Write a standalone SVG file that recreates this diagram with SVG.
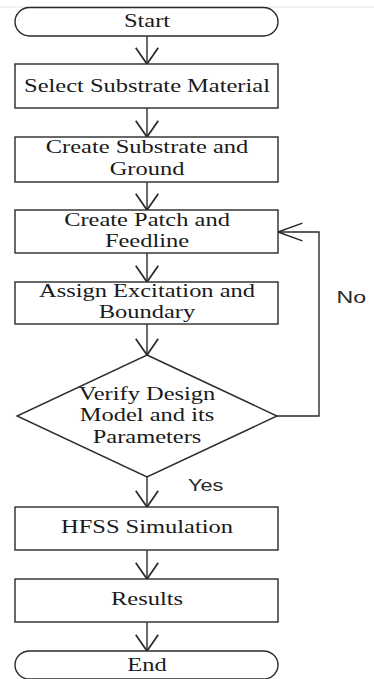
<svg xmlns="http://www.w3.org/2000/svg" width="374" height="679" viewBox="0 0 374 679">
  <style>
    .shape { fill: #ffffff; stroke: #2a2a2a; stroke-width: 1.4; }
    .link { fill: none; stroke: #2a2a2a; stroke-width: 1.4; }
    .label { font-family: "Liberation Serif", "Times New Roman", serif; font-size: 18px; fill: #1a1a1a; text-anchor: middle; }
    .branch { font-family: "Liberation Sans", Arial, sans-serif; font-size: 16px; fill: #2a2a2a; }
  </style>
  <defs>
    <marker id="head" markerUnits="userSpaceOnUse" markerWidth="30" markerHeight="30" viewBox="-15 -12 18 24" refX="0" refY="0" orient="auto" overflow="visible">
      <path d="M -13 -9 L 0 0 L -13 9" fill="none" stroke="#2a2a2a" stroke-width="1.4"/>
    </marker>
    <marker id="headLong" markerUnits="userSpaceOnUse" markerWidth="30" markerHeight="30" viewBox="-24 -12 27 24" refX="0" refY="0" orient="auto" overflow="visible">
      <path d="M -22 -8 L 0 0 L -22 8" fill="none" stroke="#2a2a2a" stroke-width="1.4"/>
    </marker>
  </defs>

  <rect width="374" height="679" fill="#ffffff"/>
  <line x1="0" y1="7" x2="374" y2="7" stroke="#e6e6e6" stroke-width="1"/>

  <!-- connectors -->
  <g id="connectors">
    <line class="link" x1="147" y1="36" x2="147" y2="64" marker-end="url(#head)"/>
    <line class="link" x1="147" y1="108" x2="147" y2="137" marker-end="url(#head)"/>
    <line class="link" x1="147" y1="182" x2="147" y2="210" marker-end="url(#head)"/>
    <line class="link" x1="147" y1="253" x2="147" y2="282" marker-end="url(#head)"/>
    <line class="link" x1="147" y1="324" x2="147" y2="355" marker-end="url(#head)"/>
    <line class="link" x1="147" y1="477" x2="147" y2="507" marker-end="url(#head)"/>
    <line class="link" x1="147" y1="550" x2="147" y2="579" marker-end="url(#head)"/>
    <line class="link" x1="147" y1="622" x2="147" y2="651" marker-end="url(#head)"/>
    <!-- "No" loop back to the patch step -->
    <polyline class="link" points="277,416 319,416 319,232 278,232" marker-end="url(#headLong)"/>
  </g>

  <!-- nodes -->
  <g id="start">
    <rect class="shape" x="15" y="7.5" width="263" height="28.5" rx="14.5" ry="14.25"/>
  </g>
  <g id="select-substrate">
    <rect class="shape" x="15" y="64" width="263" height="44"/>
  </g>
  <g id="create-substrate">
    <rect class="shape" x="15" y="137" width="263" height="45"/>
  </g>
  <g id="create-patch">
    <rect class="shape" x="15" y="210" width="263" height="43"/>
  </g>
  <g id="assign-excitation">
    <rect class="shape" x="15" y="282" width="263" height="42"/>
  </g>
  <g id="verify">
    <polygon class="shape" points="147,355 277,416 147,477 17,416"/>
  </g>
  <g id="hfss">
    <rect class="shape" x="15" y="507" width="263" height="43"/>
  </g>
  <g id="results">
    <rect class="shape" x="15" y="579" width="263" height="43"/>
  </g>
  <g id="end">
    <rect class="shape" x="15" y="651" width="263" height="28" rx="14.5" ry="14"/>
  </g>

  <!-- labels, drawn in a horizontally widened type -->
  <g transform="scale(1.36 1)">
    <text class="label" x="108.1" y="27">Start</text>
    <text class="label" x="108.1" y="92">Select Substrate Material</text>
    <text class="label" x="108.1" y="153">Create Substrate and</text>
    <text class="label" x="108.1" y="175">Ground</text>
    <text class="label" x="108.1" y="226">Create Patch and</text>
    <text class="label" x="108.1" y="247">Feedline</text>
    <text class="label" x="108.1" y="297">Assign Excitation and</text>
    <text class="label" x="108.1" y="318">Boundary</text>
    <text class="label" x="108.1" y="400">Verify Design</text>
    <text class="label" x="108.1" y="421.5">Model and its</text>
    <text class="label" x="108.1" y="443">Parameters</text>
    <text class="label" x="108.1" y="533">HFSS Simulation</text>
    <text class="label" x="108.1" y="605">Results</text>
    <text class="label" x="108.1" y="671">End</text>
    <text class="branch" x="138.2" y="491">Yes</text>
    <text class="branch" x="247.5" y="303" style="font-size:17px">No</text>
  </g>
</svg>
